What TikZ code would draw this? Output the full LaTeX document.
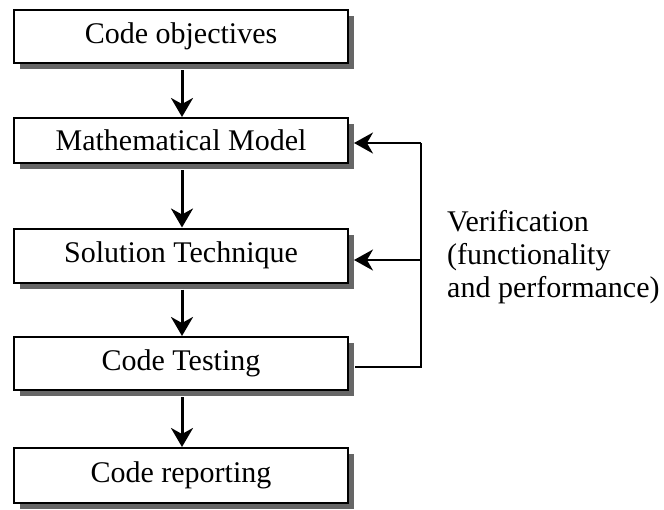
\documentclass[tikz,border=0pt]{standalone}
\usepackage{fontspec}
\setmainfont{Liberation Serif}
\usetikzlibrary{arrows.meta,shadows,calc}
\begin{document}
\begin{tikzpicture}[x=1pt,y=-1pt,
  box/.style={draw=black,line width=2pt,fill=white,minimum width=334pt,
    inner sep=0pt,font=\fontsize{30}{33}\selectfont,
    drop shadow={shadow xshift=6pt,shadow yshift=-6pt,fill=black!60,opacity=1}},
  flow/.style={line width=3pt,-{Stealth[width=22pt,length=19pt,inset=6pt]}},
  fb/.style={line width=2.2pt},
  fba/.style={line width=2.2pt,-{Stealth[width=21pt,length=19pt,inset=6pt]}}]
\useasboundingbox (0,0) rectangle (664,509);
\node[box,minimum height=53pt] (b1) at (181,36.5) {Code objectives};
\node[box,minimum height=45pt] (b2) at (181,140.5) {Mathematical Model};
\node[box,minimum height=54pt] (b3) at (181,255.5) {Solution Technique};
\node[box,minimum height=53pt] (b4) at (181,363.5) {Code Testing};
\node[box,minimum height=55pt] (b5) at (181,475.5) {Code reporting};
\draw[flow] ([xshift=1pt,yshift=-6pt]b1.south) -- ([xshift=1pt]b2.north);
\draw[flow] ([xshift=1pt,yshift=-6pt]b2.south) -- ([xshift=1pt]b3.north);
\draw[flow] ([xshift=1pt,yshift=-6pt]b3.south) -- ([xshift=1pt]b4.north);
\draw[flow] ([xshift=1pt,yshift=-6pt]b4.south) -- ([xshift=1pt]b5.north);
\coordinate (r4) at (421,367);
\coordinate (r3) at (421,260);
\coordinate (r2) at (421,143);
\draw[fb] ([xshift=6pt,yshift=-3.5pt]b4.east) -- (r4) -- (r2);
\draw[fba] (r2) -- ([xshift=5pt,yshift=-2.5pt]b2.east);
\draw[fba] (r3) -- ([xshift=5pt,yshift=-4.5pt]b3.east);
\node[anchor=base west,align=left,inner sep=0pt,font=\fontsize{30}{33}\selectfont] (v) at (447,297)
  {Verification\\(functionality\\and performance)};
\end{tikzpicture}
\end{document}
